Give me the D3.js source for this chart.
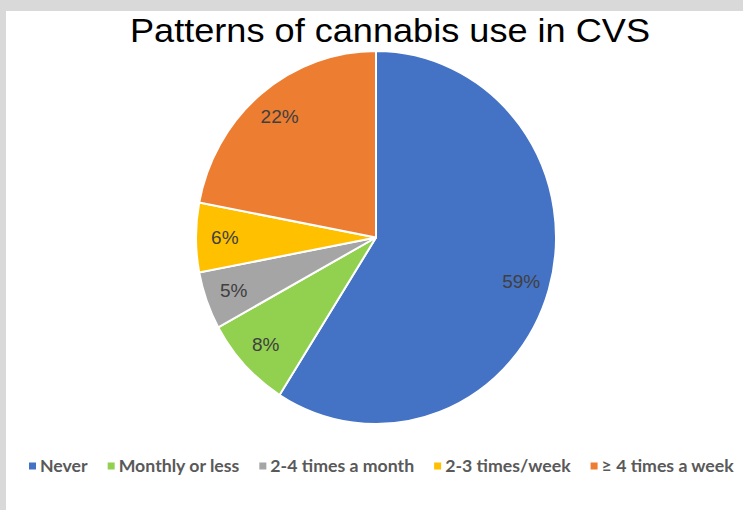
<!DOCTYPE html>
<html><head><meta charset="utf-8">
<script src="https://cdn.jsdelivr.net/npm/d3@7"></script>
<style>html,body{margin:0;padding:0;background:#d9d9d9;}svg{display:block;}</style>
</head><body>
<svg id="chart" width="743" height="510"></svg>
<script>
const categories = ["Never", "Monthly or less", "2-4 times a month", "2-3 times/week", "\u2265 4 times a week"];
const values = [59, 8, 5, 6, 22];
const colors = ["#4472C4", "#92D050", "#A5A5A5", "#FFC000", "#ED7D31"];
const title = "Patterns of cannabis use in CVS";

const svg = d3.select("#chart");
svg.append("rect").attr("x", 0).attr("y", 0).attr("width", 743).attr("height", 510).attr("fill", "#d9d9d9");
svg.append("rect").attr("x", 6).attr("y", 11).attr("width", 737).attr("height", 499).attr("fill", "#ffffff");

svg.append("text").attr("x", 390).attr("y", 42).attr("text-anchor", "middle")
  .style("font-family", "'Liberation Sans', Arial, sans-serif").style("font-size", "33px").attr("fill", "#000")
  .attr("textLength", 520).attr("lengthAdjust", "spacingAndGlyphs")
  .text(title);

const cx = 376, cy = 237.5, r = 180, sy = 186.5 / 180;
const data = categories.map((c, i) => ({ cat: c, value: values[i], color: colors[i] }));
const pie = d3.pie().value(d => d.value).sort(null);
const arcs = pie(data);
const arc = d3.arc().innerRadius(0).outerRadius(r);
const labelArc = d3.arc().innerRadius(r * 0.84).outerRadius(r * 0.84);

const g = svg.append("g").attr("transform", `translate(${cx},${cy}) scale(1,${sy})`);
g.selectAll("path").data(arcs).enter().append("path")
  .attr("d", arc).attr("fill", d => d.data.color)
  .attr("stroke", "#fff").attr("stroke-width", 2).attr("vector-effect", "non-scaling-stroke");

svg.append("g").attr("transform", `translate(${cx},${cy})`)
  .selectAll("text").data(arcs).enter().append("text")
  .attr("transform", d => { const [x, y] = labelArc.centroid(d); return `translate(${x},${y * sy})`; })
  .attr("text-anchor", "middle").attr("dy", "0.35em")
  .style("font-family", "'Liberation Sans', Arial, sans-serif").style("font-size", "19px").attr("fill", "#404040")
  .text(d => d.data.value + "%");

// legend
const lg = svg.append("g");
let x = 29;
const ly = 466;
data.forEach(d => {
  lg.append("rect").attr("x", x).attr("y", ly - 3.5).attr("width", 7).attr("height", 7).attr("fill", d.color);
  const t = lg.append("text").attr("x", x + 11).attr("y", ly).attr("dy", "0.35em")
    .style("font-family", "Lato, 'Noto Sans', sans-serif").style("font-weight", "bold").style("font-size", "17.7px")
    .attr("fill", "#595959").text(d.cat);
  x += 11 + t.node().getComputedTextLength() + 20;
});
</script>
</body></html>
